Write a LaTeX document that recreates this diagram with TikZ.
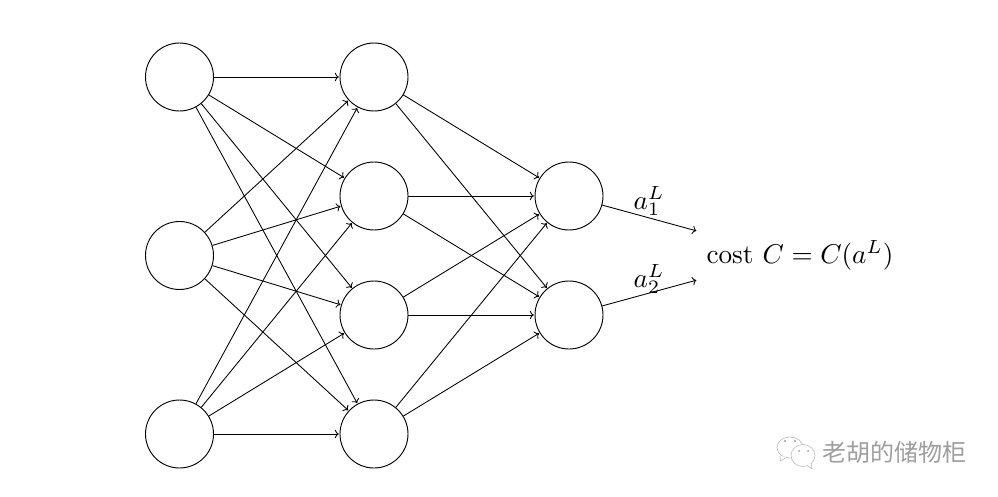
\documentclass[tikz,border=0pt]{standalone}
\usepackage{fontspec}
\newfontfamily\cjk{Noto Sans CJK SC}
\usetikzlibrary{arrows.meta}
\definecolor{wm}{gray}{0.62}
\tikzset{
  neuron/.style={circle,draw=black,line width=0.7pt,minimum size=51pt,inner sep=0pt,fill=white},
  link/.style={->,line width=0.65pt,black,shorten >=0.5pt},
  mathlabel/.style={inner sep=0pt,scale=2.04},
  bubble/.style={draw=wm!70,line width=0.45pt,fill=white},
  eye/.style={fill=wm,draw=none}
}
\begin{document}
\begin{tikzpicture}[x=0.75pt,y=-0.75pt]
\useasboundingbox (0,0) rectangle (998,496);
\node[neuron] (a1) at (179.5,77) {};
\node[neuron] (a2) at (179.5,255.5) {};
\node[neuron] (a3) at (179.5,434) {};
\node[neuron] (b1) at (374,77) {};
\node[neuron] (b2) at (374,196) {};
\node[neuron] (b3) at (374,315) {};
\node[neuron] (b4) at (374,434) {};
\node[neuron] (c1) at (569,196) {};
\node[neuron] (c2) at (569,315) {};
\foreach \s in {a1,a2,a3}\foreach \t in {b1,b2,b3,b4}\draw[link] (\s) -- (\t);
\foreach \s in {b1,b2,b3,b4}\foreach \t in {c1,c2}\draw[link] (\s) -- (\t);
\coordinate (o1) at (697,231);
\coordinate (o2) at (697,280);
\draw[link] (c1) -- (o1);
\draw[link] (c2) -- (o2);
\node[mathlabel] (l1) at (649,201) {$a_1^L$};
\node[mathlabel] (l2) at (649,279) {$a_2^L$};
\node[mathlabel] (cost) at (800,255) {cost $C=C(a^L)$};
\node[inner sep=0pt,text=wm] (wmark) at (894,452) {\fontsize{18}{20}\selectfont\cjk 老胡的储物柜};
\begin{scope}
\draw[bubble] (790,447.5) ellipse (13 and 10.5);
\draw[bubble] (780,456) -- (780.5,461) -- (787,457);
\fill[eye] (785,441) circle (1.1);
\fill[eye] (795,441) circle (1.1);
\draw[bubble] (803,455.5) ellipse (12 and 11);
\draw[bubble] (807,465) -- (812,469) -- (811,463);
\fill[eye] (799,451) circle (1);
\fill[eye] (808,451) circle (1);
\end{scope}
\end{tikzpicture}
\end{document}
